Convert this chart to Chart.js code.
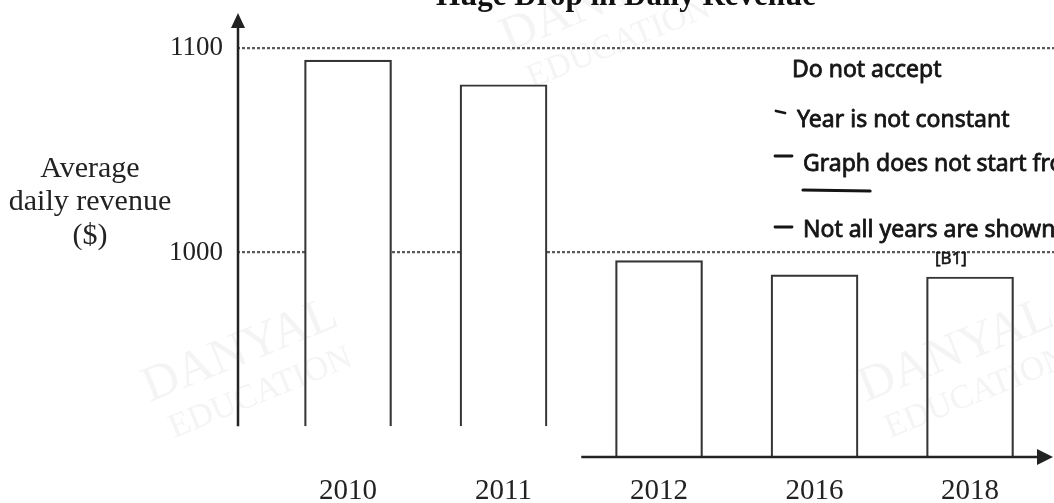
<!DOCTYPE html>
<html>
<head>
<meta charset="utf-8">
<title>Huge Drop in Daily Revenue</title>
<script src="https://cdn.jsdelivr.net/npm/chart.js@4.4.1/dist/chart.umd.min.js"></script>
<style>
  html, body { margin: 0; padding: 0; background: #fff; }
  canvas { display: block; }
</style>
</head>
<body>
<canvas id="chart" width="1054" height="503"></canvas>
<script>
// Average daily revenue per year ($)
const years = ['2010', '2011', '2012', '2016', '2018'];
const revenue = [1094, 1082, 996, 989, 988];
// where each bar stops at the bottom (the left part of the graph is cut short)
const barFloor = [915, 915, 900, 900, 900];
const yTicks = [1000, 1100];

const chartTitle = 'Huge Drop in Daily Revenue';
const yAxisTitle = ['Average', 'daily revenue', '($)'];
const markerNotes = ['Do not accept', 'Year is not constant', 'Graph does not start from 0', 'Not all years are shown'];
const markCode = '[B1]';

const INK = '#222';
const SERIF = '"Liberation Serif", "Times New Roman", serif';
const HAND = '"Noto Sans", "DejaVu Sans", sans-serif';

function arrowHead(ctx, tipX, tipY, dir, len, half) {
  ctx.beginPath();
  if (dir === 'up') {
    ctx.moveTo(tipX, tipY);
    ctx.lineTo(tipX - half, tipY + len);
    ctx.lineTo(tipX + half, tipY + len);
  } else {
    ctx.moveTo(tipX, tipY);
    ctx.lineTo(tipX - len, tipY - half);
    ctx.lineTo(tipX - len, tipY + half);
  }
  ctx.closePath();
  ctx.fill();
}

function watermark(ctx, x, y) {
  const a = -22 * Math.PI / 180;
  ctx.save();
  ctx.fillStyle = 'rgba(110,110,110,0.08)';
  ctx.textAlign = 'left';
  ctx.textBaseline = 'alphabetic';
  ctx.translate(x, y);
  ctx.rotate(a);
  ctx.font = '50px ' + SERIF;
  ctx.fillText('DANYAL', 0, 0);
  ctx.restore();
  ctx.save();
  ctx.fillStyle = 'rgba(110,110,110,0.08)';
  ctx.translate(x + 24, y + 36);
  ctx.rotate(a);
  ctx.font = '34px ' + SERIF;
  ctx.fillText('EDUCATION', 0, 0);
  ctx.restore();
}

// handwritten text: filled and lightly stroked so it reads like marker ink
function ink(ctx, text, x, y) {
  ctx.fillText(text, x, y);
  ctx.strokeText(text, x, y);
}

const sketchPlugin = {
  id: 'sketchAxes',
  afterDatasetsDraw(chart) {
    const { ctx, chartArea, scales } = chart;
    const xs = scales.x, ys = scales.y;
    ctx.save();
    ctx.strokeStyle = INK;
    ctx.fillStyle = INK;
    ctx.lineWidth = 2.5;

    // vertical axis: runs from the arrow down to the floor of the left bars
    const yx = chartArea.left + 1;
    const yTop = chartArea.top + 6;
    const yBottom = ys.getPixelForValue(barFloor[0]);
    ctx.beginPath();
    ctx.moveTo(yx, yTop + 10);
    ctx.lineTo(yx, yBottom);
    ctx.stroke();
    arrowHead(ctx, yx, yTop, 'up', 15, 7);

    // horizontal axis: starts between 2011 and 2012, at the floor of the right bars
    const axY = ys.getPixelForValue(barFloor[2]);
    const axStart = xs.getPixelForValue(1.5);
    const axEnd = chartArea.right - 1;
    ctx.beginPath();
    ctx.moveTo(axStart, axY);
    ctx.lineTo(axEnd - 12, axY);
    ctx.stroke();
    arrowHead(ctx, axEnd, axY, 'right', 16, 8);
    ctx.restore();
  },
  afterDraw(chart) {
    const { ctx } = chart;
    ctx.save();

    // faint background stamps
    watermark(ctx, 508, 52);
    watermark(ctx, 150, 402);
    watermark(ctx, 866, 402);

    // title
    ctx.fillStyle = '#111';
    ctx.textAlign = 'center';
    ctx.textBaseline = 'alphabetic';
    ctx.font = 'bold 31px ' + SERIF;
    ctx.fillText(chartTitle, 626, 5);

    // value axis caption, written horizontally
    ctx.fillStyle = INK;
    ctx.font = '30px ' + SERIF;
    const capY = [177, 210, 244];
    yAxisTitle.forEach((t, i) => ctx.fillText(t, 90, capY[i]));

    // marker's handwritten notes
    ctx.fillStyle = '#151515';
    ctx.strokeStyle = '#151515';
    ctx.textAlign = 'left';
    ctx.font = '23px ' + HAND;
    ctx.lineWidth = 0.8;
    ctx.lineCap = 'round';
    ctx.lineJoin = 'round';
    ink(ctx, markerNotes[0], 792, 77);
    ink(ctx, markerNotes[1], 797, 127);
    ink(ctx, markerNotes[2], 803, 171);
    ink(ctx, markerNotes[3], 803, 237);
    const gw = ctx.measureText('Graph').width;

    ctx.lineWidth = 2.8;
    ctx.beginPath(); ctx.moveTo(776, 111); ctx.lineTo(785, 113); ctx.stroke();
    ctx.beginPath(); ctx.moveTo(775, 156); ctx.lineTo(792, 156); ctx.stroke();
    ctx.beginPath(); ctx.moveTo(775, 227); ctx.lineTo(792, 227); ctx.stroke();
    ctx.lineWidth = 3.2;
    ctx.beginPath(); ctx.moveTo(803, 190); ctx.lineTo(803 + gw, 191); ctx.stroke();

    ctx.font = '17px ' + HAND;
    ctx.lineWidth = 0.6;
    ink(ctx, markCode, 935, 264);
    ctx.restore();
  }
};

new Chart(document.getElementById('chart'), {
  type: 'bar',
  data: {
    datasets: [{
      data: years.map((_, i) => ({ x: i, y: [barFloor[i], revenue[i]] })),
      backgroundColor: '#ffffff',
      borderColor: '#353535',
      borderWidth: 2.2,
      borderSkipped: 'start',
      barThickness: 87
    }]
  },
  options: {
    responsive: false,
    animation: false,
    layout: { padding: { left: 169, right: 0, top: 7, bottom: 0 } },
    plugins: { legend: { display: false }, tooltip: { enabled: false }, title: { display: false } },
    scales: {
      x: {
        type: 'linear',
        offset: false,
        min: -0.714,
        max: 4.54,
        grid: { display: false, drawTicks: false, offset: false },
        border: { display: false },
        afterBuildTicks: (s) => { s.ticks = years.map((_, i) => ({ value: i })); },
        afterFit: (s) => { s.height = 46; },
        ticks: {
          callback: (v) => years[v],
          padding: 17,
          color: INK,
          font: { family: SERIF, size: 29 }
        }
      },
      y: {
        min: 900,
        max: 1120,
        grid: { color: '#5a5a5a', lineWidth: 2.2, drawTicks: true, tickLength: 14, tickColor: 'rgba(0,0,0,0)' },
        border: { display: false, dash: [3, 2] },
        afterBuildTicks: (s) => { s.ticks = yTicks.map(v => ({ value: v })); },
        afterFit: (s) => { s.width = 68; },
        ticks: {
          callback: (v) => String(v),
          padding: 0,
          color: INK,
          font: { family: SERIF, size: 27, lineHeight: 0.4 }
        }
      }
    }
  },
  plugins: [sketchPlugin]
});
</script>
</body>
</html>
